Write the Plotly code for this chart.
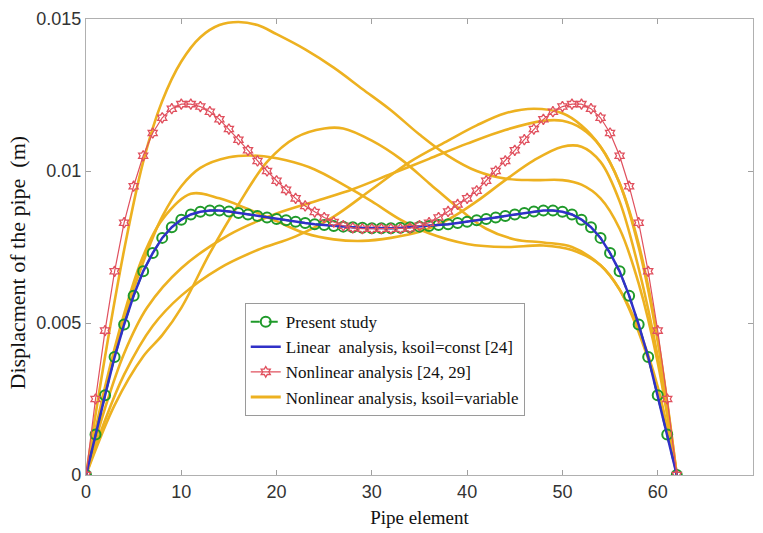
import plotly.graph_objects as go

# ---------------- data (displacement values in mm, converted to m below) -------------
elements = list(range(63))

present_mm = [0, 1.33, 2.62, 3.88, 4.95, 5.9, 6.7, 7.3, 7.8, 8.15, 8.4, 8.57, 8.66, 8.7, 8.7, 8.67,
              8.62, 8.57, 8.52, 8.47, 8.42, 8.38, 8.33, 8.29, 8.25, 8.22, 8.19, 8.17, 8.15, 8.13,
              8.12, 8.12, 8.12, 8.13, 8.15, 8.17, 8.19, 8.22, 8.25, 8.29, 8.33, 8.38, 8.42, 8.47,
              8.52, 8.57, 8.62, 8.67, 8.7, 8.7, 8.66, 8.57, 8.4, 8.15, 7.8, 7.3, 6.7, 5.9, 4.95,
              3.88, 2.62, 1.33, 0]

linear_mm = [0, 1.33, 2.62, 3.88, 4.95, 5.9, 6.7, 7.3, 7.8, 8.15, 8.4, 8.57, 8.66, 8.7, 8.7, 8.67,
             8.62, 8.57, 8.52, 8.47, 8.42, 8.38, 8.33, 8.29, 8.25, 8.22, 8.19, 8.17, 8.15, 8.13,
             8.12, 8.12, 8.12, 8.13, 8.15, 8.17, 8.19, 8.22, 8.25, 8.29, 8.33, 8.38, 8.42, 8.47,
             8.52, 8.57, 8.62, 8.67, 8.7, 8.7, 8.66, 8.57, 8.4, 8.15, 7.8, 7.3, 6.7, 5.9, 4.95,
             3.88, 2.62, 1.33, 0]

nonlinear_mm = [0, 2.5, 4.75, 6.7, 8.3, 9.5, 10.5, 11.25, 11.75, 12.05, 12.2, 12.2, 12.12, 11.95,
                11.7, 11.38, 11.03, 10.68, 10.33, 10.0, 9.68, 9.38, 9.1, 8.85, 8.65, 8.47, 8.32,
                8.2, 8.13, 8.1, 8.1, 8.1, 8.1, 8.1, 8.12, 8.2, 8.3, 8.47, 8.67, 8.9, 9.1, 9.35,
                9.68, 10.0, 10.33, 10.68, 11.03, 11.38, 11.7, 11.95, 12.12, 12.2, 12.2, 12.05,
                11.75, 11.25, 10.5, 9.5, 8.3, 6.7, 4.75, 2.5, 0]

# variable soil stiffness realisations (element, mm)
var1_x = [0, 2, 4, 6, 8, 10, 12, 14, 16, 18, 20, 23, 26, 29, 32, 35, 38, 41, 44, 47, 50, 52, 54, 56, 58, 60, 62]
var1_mm = [0, 3.9, 7.4, 10.3, 12.3, 13.6, 14.4, 14.8, 14.9, 14.8, 14.5, 14.0, 13.4, 12.7, 12.0, 11.2,
           10.5, 10.0, 9.75, 9.7, 9.7, 9.55, 9.1, 8.1, 6.3, 3.7, 0]

var2_x = [0, 2, 4, 6, 8, 10, 12, 15, 18, 21, 24, 27, 30, 33, 36, 40, 44, 48, 51, 54, 56, 58, 60, 62]
var2_mm = [0, 2.7, 5.1, 7.0, 8.5, 9.5, 10.1, 10.45, 10.5, 10.35, 10.05, 9.55, 9.0, 8.4, 7.95, 7.6,
           7.5, 7.55, 7.4, 6.9, 6.1, 4.8, 2.9, 0]

var3_x = [0, 3, 6, 8, 10, 13, 16, 19, 22, 25, 27, 30, 33, 36, 39, 42, 45, 48, 51, 54, 56, 58, 60, 62]
var3_mm = [0, 2.3, 3.9, 4.6, 5.5, 7.3, 8.9, 10.3, 11.1, 11.4, 11.4, 11.0, 10.4, 9.6, 8.8, 8.1, 7.75,
           7.65, 7.5, 6.9, 6.1, 4.7, 2.8, 0]

var4_x = [0, 2, 4, 6, 8, 11, 14, 17, 20, 23, 26, 29, 32, 35, 38, 41, 44, 47, 50, 52, 54, 56, 58, 60, 62]
var4_mm = [0, 2.9, 5.3, 7.2, 8.4, 9.25, 9.1, 8.75, 8.35, 7.95, 7.75, 7.7, 7.8, 8.0, 8.4, 9.0, 9.7,
           10.35, 10.8, 10.8, 10.3, 9.0, 6.8, 3.9, 0]

var5_x = [0, 2, 4, 7, 10, 14, 18, 22, 26, 30, 34, 38, 41, 44, 47, 50, 52, 54, 56, 58, 60, 62]
var5_mm = [0, 1.8, 3.3, 4.9, 5.9, 6.8, 7.4, 7.85, 8.5, 9.4, 10.3, 11.0, 11.5, 11.9, 12.05, 11.9,
           11.5, 10.8, 9.6, 7.6, 4.5, 0]

var6_x = [0, 2, 4, 6.4, 10, 15, 20, 24, 28, 32, 36, 40, 44, 48, 50, 52, 54, 56, 58, 60, 62]
var6_mm = [0, 2.2, 4.0, 5.5, 6.8, 7.9, 8.6, 9.0, 9.4, 9.9, 10.4, 10.9, 11.35, 11.65, 11.65, 11.4,
           10.8, 9.6, 7.5, 4.4, 0]

variable_sets = [(var1_x, var1_mm), (var2_x, var2_mm), (var3_x, var3_mm),
                 (var4_x, var4_mm), (var5_x, var5_mm), (var6_x, var6_mm)]

x_ticks = [0, 10, 20, 30, 40, 50, 60, 70]
y_ticks = [0, 0.005, 0.01, 0.015]
y_tick_text = ["0", "0.005", "0.01", "0.015"]


def to_m(vals):
    return [v / 1000.0 for v in vals]


YELLOW = "#EDB120"
SERIF = "Liberation Serif, Times New Roman, serif"
fig = go.Figure()

for i, (vx, vy) in enumerate(variable_sets):
    fig.add_trace(go.Scatter(
        x=vx, y=to_m(vy), mode="lines",
        line=dict(color=YELLOW, width=2.6, shape="spline", smoothing=1.0),
        name="Nonlinear analysis, ksoil=variable",
        legendgroup="var", showlegend=False, legendrank=4,
    ))

fig.add_trace(go.Scatter(
    x=[None], y=[None], mode="lines",
    line=dict(color=YELLOW, width=3),
    name="Nonlinear analysis, ksoil=variable", legendgroup="var", legendrank=4,
))

fig.add_trace(go.Scatter(
    x=elements, y=to_m(present_mm), mode="lines+markers",
    line=dict(color="#1f9a2a", width=2, dash="dash"),
    marker=dict(symbol="circle-open", size=10, color="#1f9a2a", line=dict(width=2)),
    name="Present study", legendrank=1,
))

fig.add_trace(go.Scatter(
    x=elements, y=to_m(linear_mm), mode="lines",
    line=dict(color="#3030c8", width=2.5),
    name="Linear  analysis, ksoil=const [24]", legendrank=2,
))

fig.add_trace(go.Scatter(
    x=elements, y=to_m(nonlinear_mm), mode="lines+markers",
    line=dict(color="#e0505e", width=1.2),
    marker=dict(symbol="hexagram-open", size=8, color="#e0505e", line=dict(width=1.3)),
    name="Nonlinear analysis [24, 29]", legendrank=3,
))

axis_common = dict(
    showline=True, linecolor="#b0b0b0", linewidth=1.3, mirror="ticks",
    ticks="inside", ticklen=5, tickcolor="#a0a0a0", tickwidth=1,
    showgrid=False, zeroline=False,
    tickfont=dict(family="Liberation Sans, Arial, sans-serif", size=18, color="#333333"),
)

fig.update_layout(
    width=763, height=533,
    margin=dict(l=86, r=9, t=14, b=57),
    paper_bgcolor="white", plot_bgcolor="white",
    xaxis=dict(range=[0, 70], tickvals=x_ticks,
               title=dict(text="Pipe element", standoff=9,
                          font=dict(family=SERIF, size=19, color="#111")),
               **axis_common),
    yaxis=dict(range=[0, 0.015], tickvals=y_ticks, ticktext=y_tick_text, **axis_common),
    annotations=[dict(
        text="Displacment of the pipe\u00a0 (m)", textangle=-90,
        xref="paper", yref="paper", x=-0.102, y=0.466,
        xanchor="center", yanchor="middle", showarrow=False,
        font=dict(family=SERIF, size=22, color="#111"),
    )],
    legend=dict(
        x=0.238, y=0.377, xanchor="left", yanchor="top",
        bgcolor="white", bordercolor="#9a9a9a", borderwidth=1,
        font=dict(family=SERIF, size=17, color="#111"),
        tracegroupgap=0, itemwidth=30,
    ),
    showlegend=True,
)

fig.write_html("out.html")
